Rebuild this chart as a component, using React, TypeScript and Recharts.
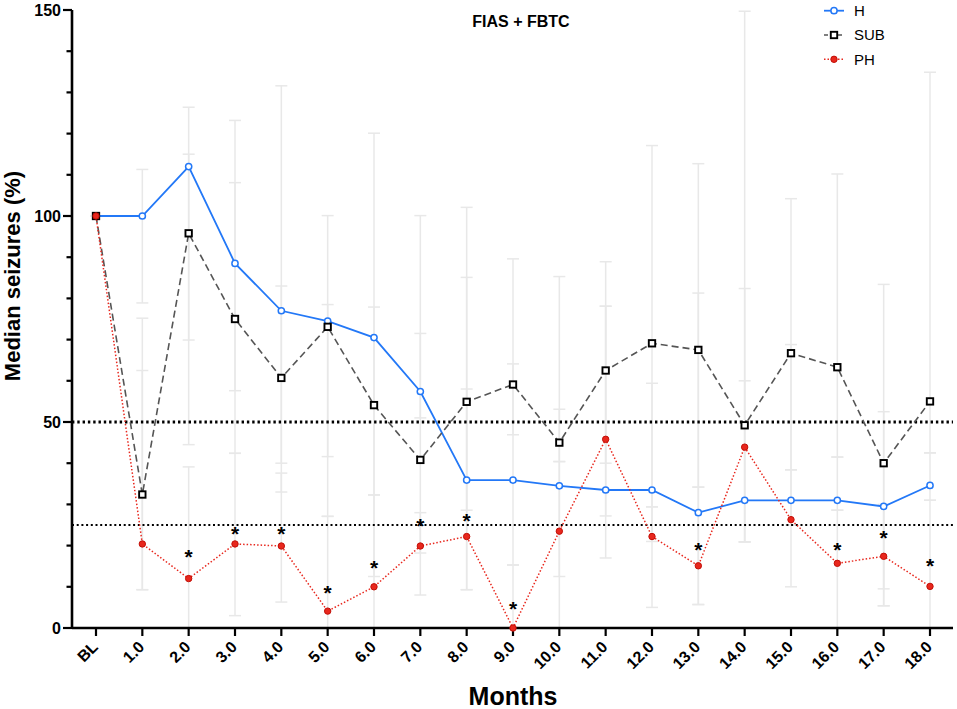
import React from 'react';
import { LineChart, Line, XAxis, YAxis, ReferenceLine, ErrorBar, Legend, Customized } from 'recharts';

const months = ['BL', '1.0', '2.0', '3.0', '4.0', '5.0', '6.0', '7.0', '8.0', '9.0', '10.0', '11.0', '12.0', '13.0', '14.0', '15.0', '16.0', '17.0', '18.0'];

const hValues = [100, 100, 112.0, 88.5, 77.0, 74.5, 70.5, 57.4, 35.9, 35.9, 34.5, 33.5, 33.5, 28.0, 31.0, 31.0, 31.0, 29.5, 34.6];
const subValues = [100, 32.4, 95.8, 75.0, 60.7, 73.1, 54.1, 40.8, 54.9, 59.1, 45.0, 62.5, 69.1, 67.5, 49.2, 66.7, 63.3, 40.0, 55.0];
const phValues = [100, 20.4, 12.0, 20.4, 19.9, 4.1, 10.0, 19.9, 22.2, 0, 23.5, 45.8, 22.2, 15.1, 43.9, 26.3, 15.7, 17.4, 10.1];

const hLow = [100, 78.9, 69.9, 57.6, 40.0, 41.6, 32.3, 51.0, 9.3, 15.3, 12.5, 17.0, 21.0, 5.7, 20.9, 25.0, 28.6, 5.4, 31.0];
const hHigh = [100, 111.3, 126.4, 123.2, 131.6, 100.1, 120.1, 100.1, 85.1, 64.1, 53.1, 78.1, 59.4, 81.3, 82.4, 68.8, 41.5, 52.5, 42.5];
const subLow = [100, 9.3, 44.5, 42.4, 33.0, 27.1, 12.5, 18.2, 28.6, 46.9, 40.4, 40.0, 29.4, 34.2, 20.9, 38.4, 41.5, 9.5, 42.5];
const subHigh = [100, 75.2, 115.0, 108.1, 83.0, 78.5, 77.9, 71.5, 102.1, 89.6, 85.3, 88.9, 117.1, 112.7, 149.7, 104.2, 110.2, 83.4, 134.9];
const phLow = [100, 9.3, 0, 3.0, 6.3, 0, 0, 8.0, 9.3, 0, 0, 27.2, 5.0, 5.7, 20.9, 10.0, 0, 5.4, 0];
const phHigh = [100, 62.5, 39.1, 42.4, 37.6, 27.1, 32.3, 28.0, 58.0, 15.3, 40.4, 78.1, 29.4, 34.2, 60.0, 38.4, 28.6, 30.0, 31.0];

const stars: (number | null)[] = [null, null, 18.4, 24.0, 24.0, 9.6, 15.7, 25.8, 27.1, 5.7, null, null, null, 20.0, null, null, 20.1, 22.9, 16.1];

const yTicks = [0, 10, 20, 30, 40, 50, 60, 70, 80, 90, 100, 110, 120, 130, 140, 150];
const yLabelTicks = [0, 50, 100, 150];
const refLines = [50, 25];
const seriesNames = ['H', 'SUB', 'PH'];
const title = 'FIAS + FBTC';

const data = months.map((m, i) => ({
  month: m,
  h: hValues[i],
  sub: subValues[i],
  ph: phValues[i],
  star: stars[i],
  hErr: [hValues[i] - hLow[i], hHigh[i] - hValues[i]],
  subErr: [subValues[i] - subLow[i], subHigh[i] - subValues[i]],
  phErr: [phValues[i] - phLow[i], phHigh[i] - phValues[i]],
}));

const FONT = '"Liberation Sans", Arial, Helvetica, sans-serif';
const BLUE = '#2378f7';
const GRAY = '#555555';
const RED = '#e8271d';
const ERR = '#e8e8e8';

const YTick = (p: any) => {
  const v = p.payload.value;
  const major = yLabelTicks.includes(v);
  return (
    <g>
      <line x1={p.x - (major ? 9 : 5.5)} x2={p.x} y1={p.y} y2={p.y} stroke="#000" strokeWidth={2.2} />
      {major && (
        <text x={p.x - 11} y={p.y + 5.8} textAnchor="end" fontSize={16} fontWeight={700} fontFamily={FONT} fill="#000">
          {v}
        </text>
      )}
    </g>
  );
};

const XTick = (p: any) => {
  const ax = p.x + 3;
  const ay = p.y + 12;
  return (
    <text x={ax} y={ay} transform={`rotate(-45 ${ax} ${ay})`} textAnchor="end" fontSize={16} fontWeight={700} fontFamily={FONT} fill="#000">
      {p.payload.value}
    </text>
  );
};

const HDot = (p: any) =>
  p.cx == null || p.cy == null ? <g key={`h${p.index}`} /> : (
    <circle key={`h${p.index}`} cx={p.cx} cy={p.cy} r={3.1} fill="#fff" stroke={BLUE} strokeWidth={1.5} />
  );

const SubDot = (p: any) =>
  p.cx == null || p.cy == null ? <g key={`s${p.index}`} /> : (
    <rect key={`s${p.index}`} x={p.cx - 3.2} y={p.cy - 3.2} width={6.4} height={6.4} fill="#fff" stroke="#000" strokeWidth={1.9} />
  );

const PhDot = (p: any) =>
  p.cx == null || p.cy == null ? <g key={`p${p.index}`} /> : (
    <circle key={`p${p.index}`} cx={p.cx} cy={p.cy} r={3.2} fill={RED} stroke="#c21008" strokeWidth={1} />
  );

const StarDot = (p: any) =>
  p.cx == null || p.cy == null || p.value == null ? <g key={`st${p.index}`} /> : (
    <text key={`st${p.index}`} x={p.cx} y={p.cy + 11.5} textAnchor="middle" fontSize={21} fontWeight={700} fontFamily={FONT} fill="#000">
      *
    </text>
  );

const LegendBox = () => {
  const rows = [
    { name: seriesNames[0], color: BLUE, dash: undefined as string | undefined, width: 1.8, kind: 'open' },
    { name: seriesNames[1], color: GRAY, dash: '4 3', width: 1.6, kind: 'square' },
    { name: seriesNames[2], color: RED, dash: '1.5 2', width: 1.5, kind: 'filled' },
  ];
  return (
    <svg width={130} height={72} style={{ display: 'block' }}>
      {rows.map((r, i) => {
        const cy = 10.7 + i * 24.3;
        return (
          <g key={r.name}>
            <line x1={6} x2={26} y1={cy} y2={cy} stroke={r.color} strokeWidth={r.width} strokeDasharray={r.dash} />
            {r.kind === 'open' && <circle cx={16} cy={cy} r={3.1} fill="#fff" stroke={BLUE} strokeWidth={1.5} />}
            {r.kind === 'square' && <rect x={12.8} y={cy - 3.2} width={6.4} height={6.4} fill="#fff" stroke="#000" strokeWidth={1.9} />}
            {r.kind === 'filled' && <circle cx={16} cy={cy} r={3.2} fill={RED} stroke="#c21008" strokeWidth={1} />}
            <text x={36} y={cy + 5.4} fontSize={15} fontFamily={FONT} fill="#000">
              {r.name}
            </text>
          </g>
        );
      })}
    </svg>
  );
};

const Decorations = () => (
  <g>
    <text x={521} y={27} textAnchor="middle" fontSize={16} fontWeight={700} fontFamily={FONT} fill="#000">
      {title}
    </text>
    <text transform="translate(20,276) rotate(-90)" textAnchor="middle" fontSize={22} fontWeight={700} fontFamily={FONT} fill="#000">
      Median seizures (%)
    </text>
    <text x={513} y={705} textAnchor="middle" fontSize={25} fontWeight={700} fontFamily={FONT} fill="#000">
      Months
    </text>
  </g>
);

export default function App() {
  return (
    <div style={{ position: 'absolute', left: 0, top: 0, width: 957, height: 709, background: '#fff' }}>
      <LineChart width={957} height={709} data={data} margin={{ top: 10, right: 4, left: 0, bottom: 0 }}>
        <XAxis
          dataKey="month"
          type="category"
          interval={0}
          padding={{ left: 24, right: 23 }}
          height={81}
          tickSize={8}
          tickMargin={0}
          tickLine={{ stroke: '#000', strokeWidth: 2.2 }}
          axisLine={{ stroke: '#000', strokeWidth: 2.6 }}
          tick={<XTick />}
        />
        <YAxis
          type="number"
          domain={[0, 150]}
          ticks={yTicks}
          interval={0}
          width={72}
          tickSize={0}
          tickMargin={0}
          tickLine={false}
          axisLine={{ stroke: '#000', strokeWidth: 2.6 }}
          tick={<YTick />}
        />
        <Line dataKey="h" stroke="none" dot={false} activeDot={false} legendType="none" isAnimationActive={false}>
          <ErrorBar dataKey="hErr" width={6} stroke={ERR} strokeWidth={1.5} direction="y" />
        </Line>
        <Line dataKey="sub" stroke="none" dot={false} activeDot={false} legendType="none" isAnimationActive={false}>
          <ErrorBar dataKey="subErr" width={6} stroke={ERR} strokeWidth={1.5} direction="y" />
        </Line>
        <Line dataKey="ph" stroke="none" dot={false} activeDot={false} legendType="none" isAnimationActive={false}>
          <ErrorBar dataKey="phErr" width={6} stroke={ERR} strokeWidth={1.5} direction="y" />
        </Line>
        {refLines.map((v, i) => (
          <ReferenceLine
            key={v}
            y={v}
            stroke="#000"
            strokeWidth={i === 0 ? 2.8 : 2}
            strokeDasharray={i === 0 ? '2.4 2.9' : '2 2.7'}
          />
        ))}
        <Line dataKey="h" name={seriesNames[0]} type="linear" stroke={BLUE} strokeWidth={1.8} dot={<HDot />} activeDot={false} isAnimationActive={false} />
        <Line dataKey="sub" name={seriesNames[1]} type="linear" stroke={GRAY} strokeWidth={1.6} strokeDasharray="7 4" dot={<SubDot />} activeDot={false} isAnimationActive={false} />
        <Line dataKey="ph" name={seriesNames[2]} type="linear" stroke={RED} strokeWidth={1.5} strokeDasharray="1.5 2" dot={<PhDot />} activeDot={false} isAnimationActive={false} />
        <Line dataKey="star" stroke="none" dot={<StarDot />} activeDot={false} legendType="none" isAnimationActive={false} />
        <Legend
          layout="vertical"
          align="center"
          verticalAlign="middle"
          wrapperStyle={{ position: 'absolute', left: 818, top: 0, width: 130, height: 72 }}
          content={() => <LegendBox />}
        />
        <Customized component={Decorations} />
      </LineChart>
    </div>
  );
}
